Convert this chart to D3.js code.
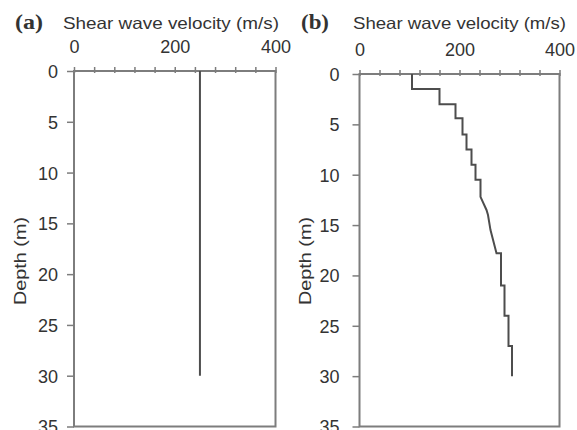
<!DOCTYPE html>
<html><head><meta charset="utf-8">
<script src="https://cdn.jsdelivr.net/npm/d3@7/dist/d3.min.js"></script>
<style>
html,body{margin:0;padding:0;background:#fff;}
svg{display:block;}
text{font-family:"Liberation Sans",Arial,sans-serif;fill:#333;}
</style></head>
<body>
<svg id="chart" width="577" height="430"></svg>
<script>
// ---- data ----
const panelLabels = ["(a)", "(b)"];
const xTitle = "Shear wave velocity (m/s)";
const yTitle = "Depth (m)";
const xTicks = [0, 40, 80, 120, 160, 200, 240, 280, 320, 360, 400];
const xTickLabels = [0, 200, 400];
const yTicks = [0, 5, 10, 15, 20, 25, 30, 35];
// panel (a): uniform profile
const vsA = [250, 250];
const depthA = [0, 30];
// panel (b): layered profile
const vsB = [105, 105, 160, 160, 192, 192, 206, 206, 214, 214, 224, 224, 232, 232, 242, 242, 254, 257, 262, 274, 283, 283, 290, 290, 298, 298, 305, 305];
const depthB = [0, 1.5, 1.5, 3, 3, 4.4, 4.4, 6, 6, 7.5, 7.5, 9, 9, 10.5, 10.5, 12.2, 13.5, 14.0, 15.5, 17.8, 17.8, 21, 21, 24, 24, 27, 27, 30];

// ---- layout ----
const svg = d3.select("#chart");
const panels = [
  {label: panelLabels[0], vs: vsA, depth: depthA, x0: 74, x1: 275.5, y0: 71, y1: 426.5,
   labelX: 15, titleX: 63, titleLen: 216, tickGap: 9, yTitleX: 26},
  {label: panelLabels[1], vs: vsB, depth: depthB, x0: 359.5, x1: 559.5, y0: 74, y1: 426.5,
   labelX: 301, titleX: 353, titleLen: 213, tickGap: 13, yTitleX: 311}
];

panels.forEach(p => {
  const x = d3.scaleLinear().domain([0, 400]).range([p.x0, p.x1]);
  const y = d3.scaleLinear().domain([0, 35]).range([p.y0, p.y1]);
  const g = svg.append("g");

  // frame (right + bottom + left + top)
  g.append("rect").attr("x", p.x0).attr("y", p.y0)
    .attr("width", p.x1 - p.x0).attr("height", p.y1 - p.y0)
    .attr("fill", "none").attr("stroke", "#7d7d7d").attr("stroke-width", 2);

  // top axis
  const ax = g.append("g").attr("transform", `translate(0,${p.y0})`)
    .call(d3.axisTop(x).tickValues(xTicks).tickFormat(d => xTickLabels.includes(d) ? d : ""));
  ax.select(".domain").remove();
  ax.selectAll(".tick line").attr("y1", 2).attr("y2", -4).attr("stroke", "#7d7d7d").attr("stroke-width", 1.5);
  ax.selectAll(".tick text").attr("y", -18).attr("dy", 0)
    .attr("font-size", 18).attr("fill", "#333").style("font-family", '"Liberation Sans",Arial,sans-serif');

  // left axis
  const ay = g.append("g").attr("transform", `translate(${p.x0},0)`)
    .call(d3.axisLeft(y).tickValues(yTicks).tickSize(7).tickPadding(p.tickGap));
  ay.select(".domain").remove();
  ay.selectAll(".tick line").attr("stroke", "#7d7d7d").attr("stroke-width", 1.5);
  ay.selectAll(".tick text").attr("dy", "0.36em")
    .attr("font-size", 18).attr("fill", "#333").style("font-family", '"Liberation Sans",Arial,sans-serif');

  // titles
  g.append("text").attr("x", p.labelX).attr("y", 29)
    .attr("font-size", 20).attr("font-weight", "bold")
    .style("font-family", '"Liberation Serif","Times New Roman",serif')
    .attr("textLength", 28).attr("lengthAdjust", "spacingAndGlyphs")
    .text(p.label);
  g.append("text").attr("x", p.titleX).attr("y", 29)
    .attr("font-size", 16.5)
    .attr("textLength", p.titleLen).attr("lengthAdjust", "spacingAndGlyphs")
    .text(xTitle);
  g.append("text")
    .attr("transform", `translate(${p.yTitleX},261) rotate(-90)`)
    .attr("text-anchor", "middle").attr("font-size", 17)
    .attr("textLength", 88).attr("lengthAdjust", "spacingAndGlyphs")
    .text(yTitle);

  // profile
  const line = d3.line().x(d => x(d[0])).y(d => y(d[1]));
  g.append("path")
    .datum(p.vs.map((v, i) => [v, p.depth[i]]))
    .attr("d", line).attr("fill", "none")
    .attr("stroke", "#4d4d4d").attr("stroke-width", 2);
});
</script>
</body></html>
